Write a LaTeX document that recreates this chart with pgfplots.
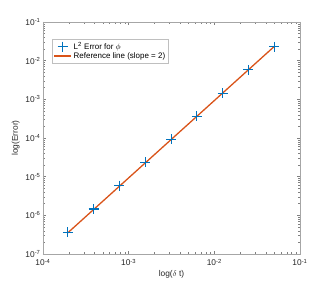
\documentclass[border=0pt]{standalone}
\usepackage{pgfplots}
\pgfplotsset{compat=1.18}
\usepackage{fontspec}
\setmainfont{Liberation Sans}
\definecolor{mblue}{rgb}{0,0.447,0.741}
\definecolor{morange}{rgb}{0.85,0.325,0.098}
\definecolor{axgrey}{rgb}{0.15,0.15,0.15}
\begin{document}
\begin{tikzpicture}[x=1bp,y=1bp]
\useasboundingbox (-43bp,-33bp) rectangle (289bp,254bp);
\begin{axis}[
  scale only axis,
  width=257bp, height=232bp,
  xmode=log, ymode=log,
  xmin=1e-4, xmax=1e-1,
  ymin=1e-7, ymax=1e-1,
  xtick={1e-4,1e-3,1e-2,1e-1},
  xticklabels={10\textsuperscript{-4},10\textsuperscript{-3},10\textsuperscript{-2},10\textsuperscript{-1}},
  ytick={1e-7,1e-6,1e-5,1e-4,1e-3,1e-2,1e-1},
  yticklabels={10\textsuperscript{-7},10\textsuperscript{-6},10\textsuperscript{-5},10\textsuperscript{-4},10\textsuperscript{-3},10\textsuperscript{-2},10\textsuperscript{-1}},
  tick align=inside,
  major tick length=3bp,
  minor tick length=1.6bp,
  every tick/.style={color=black!50, line width=0.4pt},
  axis line style={color=black!35, line width=0.5pt},
  tick label style={font=\fontsize{8.4}{9}\selectfont, color=axgrey},
  xticklabel style={yshift=-1.5bp},
  yticklabel style={xshift=1bp},
  label style={font=\fontsize{8.4}{9}\selectfont, color=axgrey},
  xlabel={log(\ensuremath{\delta} t)},
  ylabel={log(Error)},
  xlabel style={yshift=2bp},
  ylabel style={yshift=-1bp},
  legend style={at={(0.035,0.927)}, anchor=north west, draw=black!25, fill=white,
    font=\fontsize{8}{9}\selectfont, row sep=-2.5bp, inner sep=1.2bp, line width=0.5pt},
  legend cell align=left,
]
\addplot[only marks, mark=+, mark size=5bp, mblue, line width=1.1pt] coordinates {
  (0.0001953125,3.62e-7)
  (0.000390625,1.46e-6)
  (0.00078125,5.85e-6)
  (0.0015625,2.33e-5)
  (0.003125,9.3e-5)
  (0.00625,3.62e-4)
  (0.0125,1.45e-3)
  (0.025,5.8e-3)
  (0.05,2.28e-2)
};
\addlegendentry{L\textsuperscript{2} Error for \ensuremath{\phi}}
\addplot[morange, line width=1.3pt] coordinates {
  (0.0001953125,3.55e-7)
  (0.000390625,1.42e-6)
  (0.00078125,5.68e-6)
  (0.0015625,2.27e-5)
  (0.003125,9.08e-5)
  (0.00625,3.63e-4)
  (0.0125,1.453e-3)
  (0.025,5.81e-3)
  (0.05,2.325e-2)
};
\addlegendentry{Reference line (slope = 2)}
\end{axis}
\end{tikzpicture}
\end{document}
